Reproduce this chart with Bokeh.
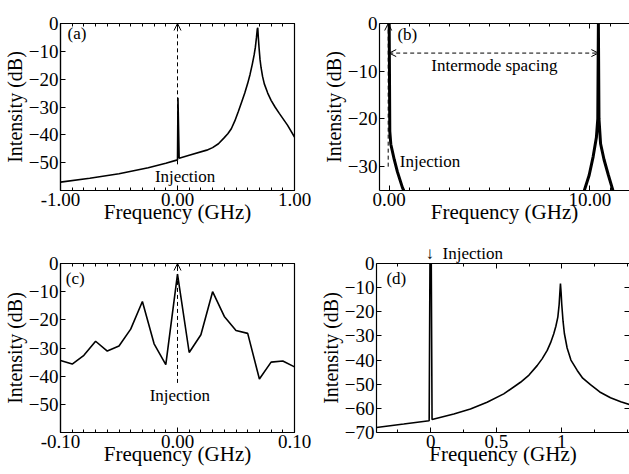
import numpy as np
from bokeh.plotting import figure
from bokeh.layouts import column, row
from bokeh.models import (Range1d, FixedTicker, LinearAxis, Arrow, OpenHead, Label,
                          NumeralTickFormatter, BasicTickFormatter, CustomJSTickFormatter)
from bokeh.embed import file_html
from bokeh.resources import INLINE

# ---------------- data ----------------
# (a)
a_freq = [-1.0, -0.75, -0.5, -0.25, -0.1, 0.0, 0.004, 0.014, 0.1, 0.25, 0.30, 0.35, 0.40, 0.43,
          0.46, 0.49, 0.52, 0.55, 0.575, 0.60, 0.62, 0.64, 0.655, 0.665, 0.675, 0.682, 0.686,
          0.690, 0.697, 0.705, 0.714, 0.727, 0.742, 0.771, 0.80, 0.835, 0.87, 0.94, 1.0]
a_db = [-57.0, -55.6, -54.0, -51.8, -50.2, -49.0, -26.7, -48.4, -47.3, -45.5, -44.6, -43.2, -41.0, -39.6,
        -37.8, -35.0, -31.6, -28.0, -25.0, -21.5, -18.3, -14.5, -11.3, -8.7, -5.0, -2.0, -1.5,
        -4.5, -8.7, -12.8, -15.8, -19.0, -21.7, -25.0, -27.6, -30.1, -32.3, -36.5, -40.8]
a_xticks = [-1.0, 0.0, 1.0]
a_yticks = [0, -10, -20, -30, -40, -50]

# (b)
b_left_freq = [0.0, 0.03, 0.08, 0.25, 0.41, 0.66, 0.78]
b_left_db = [0.0, -22.6, -25.3, -28.5, -31.1, -34.4, -35.5]
b_right_freq = [9.68, 9.96, 10.16, 10.32, 10.39, 10.42, 10.45, 10.53, 10.70, 10.92, 11.18]
b_right_db = [-35.5, -31.8, -27.9, -23.9, -20.0, 0.0, -20.0, -25.2, -28.5, -31.8, -35.5]
b_xticks = [0.0, 10.0]
b_yticks = [0, -10, -20, -30]

# (c)
c_freq = [-0.10, -0.09, -0.08, -0.07, -0.06, -0.05, -0.04, -0.03, -0.02, -0.01, 0.00,
          0.01, 0.02, 0.03, 0.04, 0.05, 0.06, 0.07, 0.08, 0.09, 0.10]
c_db = [-34.4, -35.7, -32.6, -27.6, -31.1, -29.3, -23.3, -13.5, -28.5, -35.9, -3.8,
        -31.6, -25.3, -10.0, -18.8, -23.8, -24.8, -41.0, -35.0, -34.6, -36.7]
c_xticks = [-0.1, 0.0, 0.1]
c_yticks = [0, -10, -20, -30, -40, -50]

# (d)
d_freq = [-0.414, -0.206, -0.012, -0.006, 0.004, 0.01, 0.176, 0.303, 0.43, 0.557, 0.685, 0.75,
          0.812, 0.85, 0.889, 0.915, 0.939, 0.955, 0.97, 0.98, 0.985, 0.99, 0.995, 1.0, 1.01,
          1.02, 1.041, 1.07, 1.118, 1.16, 1.219, 1.29, 1.372, 1.45, 1.517]
d_db = [-67.9, -66.5, -65.1, 0.0, 0.0, -64.6, -62.3, -60.3, -57.5, -54.0, -49.2, -46.2,
        -42.3, -39.5, -36.0, -32.8, -29.1, -26.0, -22.2, -17.0, -12.5, -8.3, -12.0, -17.0, -24.0,
        -29.0, -35.0, -40.0, -44.3, -47.5, -50.2, -53.2, -55.6, -57.3, -58.4]
d_xticks = [0.0, 0.5, 1.0]
d_yticks = [0, -10, -20, -30, -40, -50, -60, -70]

FONT = "Liberation Serif"
TICK_FS = "19px"
XLAB_FS = "21px"
YLAB_FS = "20px"
ANN_FS = "17px"


def style_axis(ax, ticker, formatter, label=None, lab_fs=XLAB_FS, show_line=True):
    ax.ticker = ticker
    ax.formatter = formatter
    ax.major_tick_in = 5
    ax.major_tick_out = 0
    ax.minor_tick_in = 3
    ax.minor_tick_out = 0
    ax.major_tick_line_color = "black"
    ax.minor_tick_line_color = "black"
    ax.axis_line_color = "black" if show_line else None
    ax.axis_line_width = 1.2
    ax.major_label_text_font = FONT
    ax.major_label_text_font_size = TICK_FS
    ax.major_label_text_color = "black"
    ax.major_label_standoff = 2
    if label is not None:
        ax.axis_label = label
        ax.axis_label_text_font = FONT
        ax.axis_label_text_font_size = lab_fs
        ax.axis_label_text_font_style = "normal"
        ax.axis_label_text_color = "black"
        ax.axis_label_standoff = -9 if lab_fs == XLAB_FS else 0


def blank_axis(ticker, show_line=True):
    ax = LinearAxis()
    style_axis(ax, ticker, CustomJSTickFormatter(code="return ''"), show_line=show_line)
    ax.major_label_standoff = 0
    ax.major_label_text_font_size = "1px"
    return ax


def make_fig(w, h, xr, yr, mb, outline=True):
    p = figure(width=w, height=h, x_range=Range1d(*xr), y_range=Range1d(*yr),
               output_backend="svg", toolbar_location=None,
               min_border_left=mb[0], min_border_right=mb[1],
               min_border_top=mb[2], min_border_bottom=mb[3])
    p.xgrid.visible = False
    p.ygrid.visible = False
    p.background_fill_color = "white"
    p.border_fill_color = "white"
    if outline:
        p.outline_line_color = "black"
        p.outline_line_width = 1.2
    else:
        p.outline_line_color = None
    return p


def arrow(p, x0, y0, x1, y1, both=False):
    head = dict(size=7, line_width=1, line_color="black")
    p.add_layout(Arrow(end=OpenHead(**head), start=OpenHead(**head) if both else None,
                       x_start=x0, y_start=y0, x_end=x1, y_end=y1,
                       line_dash="4 3", line_width=1, line_color="black"))


def label(p, x, y, text, align="center", fs=ANN_FS):
    p.add_layout(Label(x=x, y=y, text=text, text_font=FONT, text_font_size=fs,
                       text_align=align, text_baseline="middle", text_color="black"))


# ---------------- (a) ----------------
pa = make_fig(314, 237, (-1.0, 1.0), (-60, 0), (58, 20, 23, 44))
pa.line(a_freq, a_db, line_color="black", line_width=1.6)
a_xt = FixedTicker(ticks=a_xticks, minor_ticks=list(np.round(np.arange(-1.0, 1.01, 0.1), 2)))
style_axis(pa.xaxis[0], a_xt, NumeralTickFormatter(format="0.00"), "Frequency (GHz)")
style_axis(pa.yaxis[0], FixedTicker(ticks=a_yticks, minor_ticks=[]), BasicTickFormatter(),
           "Intensity (dB)", YLAB_FS)
pa.add_layout(blank_axis(a_xt), "above")
arrow(pa, 0.0, -50.6, 0.0, 0.0)
label(pa, 0.065, -54.8, "Injection")
label(pa, -0.94, -3.6, "(a)", align="left")

# ---------------- (b) ----------------
pb = make_fig(315, 237, (-0.483, 11.97), (-35, 0), (65, 0, 11, 47), outline=False)
pb.line(b_left_freq, b_left_db, line_color="black", line_width=3)
pb.line(b_right_freq, b_right_db, line_color="black", line_width=3)
b_xt = FixedTicker(ticks=b_xticks, minor_ticks=list(range(0, 12)))
style_axis(pb.xaxis[0], b_xt, NumeralTickFormatter(format="0.00"), "Frequency (GHz)")
style_axis(pb.yaxis[0], FixedTicker(ticks=b_yticks, minor_ticks=[]), BasicTickFormatter(),
           "Intensity (dB)", YLAB_FS)
pb.add_layout(blank_axis(b_xt), "above")
arrow(pb, 0.0, -6.2, 10.42, -6.2, both=True)
arrow(pb, -0.05, -30.0, -0.05, 0.0)
label(pb, 5.24, -8.8, "Intermode spacing")
label(pb, 0.53, -28.9, "Injection", align="left")
label(pb, 0.41, -2.3, "(b)", align="left")

# ---------------- (c) ----------------
pc = make_fig(314, 237, (-0.1, 0.1), (-60, 0), (58, 20, 25, 42))
pc.line(c_freq, c_db, line_color="black", line_width=1.6)
c_xt = FixedTicker(ticks=c_xticks, minor_ticks=list(np.round(np.arange(-0.1, 0.101, 0.01), 3)))
style_axis(pc.xaxis[0], c_xt, NumeralTickFormatter(format="0.00"), "Frequency (GHz)")
style_axis(pc.yaxis[0], FixedTicker(ticks=c_yticks, minor_ticks=[]), BasicTickFormatter(),
           "Intensity (dB)", YLAB_FS)
pc.add_layout(blank_axis(c_xt), "above")
arrow(pc, 0.0, -42.4, 0.0, 0.0)
label(pc, 0.002, -46.8, "Injection")
label(pc, -0.0955, -5.3, "(c)", align="left")

# ---------------- (d) ----------------
pd_ = make_fig(315, 237, (-0.414, 1.517), (-70, 0), (62, 0, 26, 42), outline=False)
pd_.line(d_freq, d_db, line_color="black", line_width=1.6)
d_xt = FixedTicker(ticks=d_xticks, minor_ticks=[-0.25, 0.0, 0.25, 0.5, 0.75, 1.0, 1.25, 1.5])
style_axis(pd_.xaxis[0], d_xt, BasicTickFormatter(), "Frequency (GHz)")
d_yt = FixedTicker(ticks=d_yticks, minor_ticks=[])
style_axis(pd_.yaxis[0], d_yt, BasicTickFormatter(), "Intensity (dB)", YLAB_FS)
pd_.add_layout(blank_axis(d_xt), "above")
pd_.add_layout(blank_axis(d_yt, show_line=False), "right")
pd_.title.text = "\u2193\ufe0e\u00a0\u00a0Injection"
pd_.title.text_font = FONT
pd_.title.text_font_size = ANN_FS
pd_.title.text_font_style = "normal"
pd_.title.text_color = "black"
pd_.title.align = "left"
pd_.title.offset = 49
pd_.title.standoff = 1
label(pd_, -0.338, -6.4, "(d)", align="left")

p = column(row(pa, pb), row(pc, pd_))

open("out.html", "w").write(file_html(p, INLINE))
